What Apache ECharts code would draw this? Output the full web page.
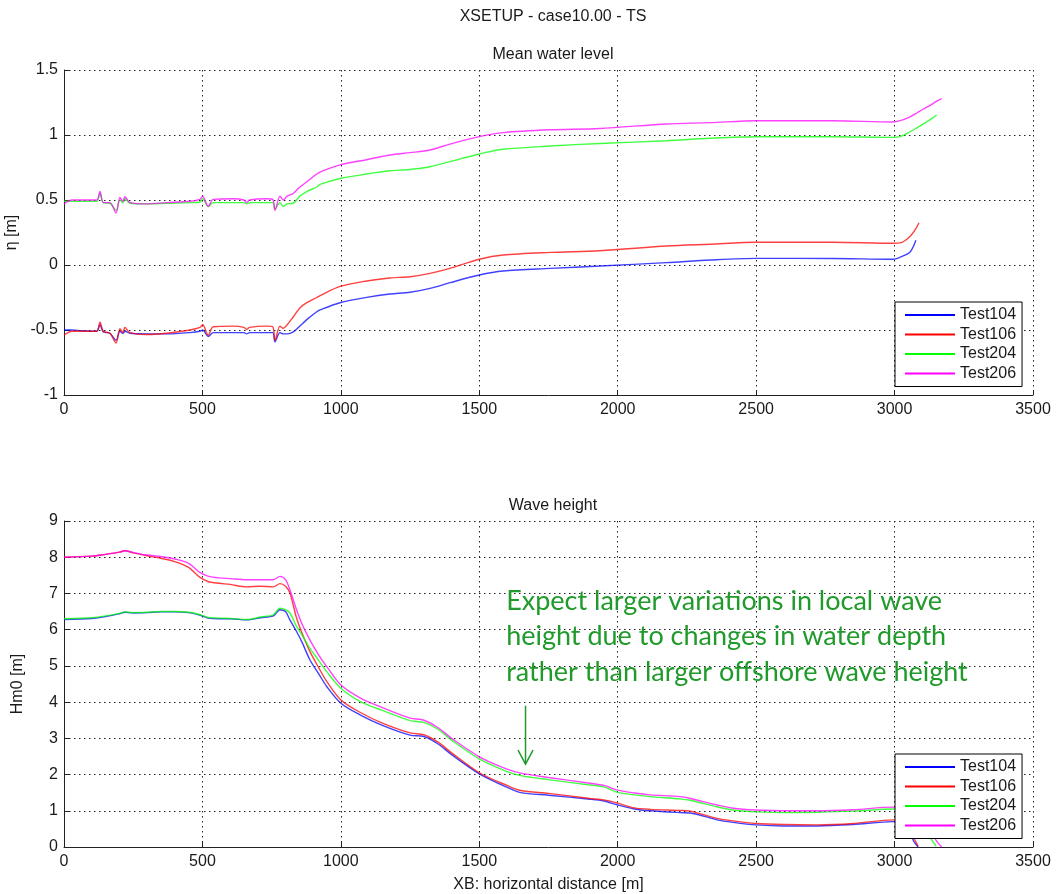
<!DOCTYPE html>
<html>
<head>
<meta charset="utf-8">
<script src="https://cdn.jsdelivr.net/npm/echarts@6/dist/echarts.min.js"></script>
<style>
  html, body { margin: 0; padding: 0; background: #fff; }
  #chart { width: 1056px; height: 894px; }
</style>
</head>
<body>
<div id="chart"></div>
<script>
// ---- series identity ----
const seriesNames  = ['Test104', 'Test106', 'Test204', 'Test206'];
const seriesColors = ['#0000ff', '#ff0000', '#00ff00', '#ff00ff'];

// ---- Mean water level (eta, m) along XB (m) ----
const xLevel = [0, 29, 60, 118, 130, 142, 166, 188, 202, 213, 220, 238, 298, 371, 455, 491, 501, 521, 539, 611,
  650, 660, 670, 732, 754, 762, 780, 792, 806, 828, 852, 877, 913, 925, 997, 1093, 1177, 1250, 1322, 1394,
  1500, 1586, 1756, 1936, 2177, 2333, 2500, 2778, 2995, 3020, 3056, 3077, 3088, 3104, 3130, 3152, 3170];
const level104 = [-0.50, -0.50, -0.505, -0.51, -0.46, -0.515, -0.525, -0.58, -0.51, -0.525, -0.51, -0.525, -0.53, -0.53, -0.52, -0.51, -0.50, -0.55, -0.52, -0.52,
  -0.52, -0.53, -0.52, -0.52, -0.52, -0.59, -0.52, -0.53, -0.53, -0.515, -0.47, -0.42, -0.36, -0.345, -0.29, -0.249, -0.223, -0.21, -0.18, -0.136,
  -0.077, -0.046, -0.026, -0.008, 0.018, 0.038, 0.051, 0.05, 0.044, 0.06, 0.10, 0.19, null, null, null, null, null];
const level106 = [-0.54, -0.51, -0.51, -0.51, -0.44, -0.51, -0.525, -0.60, -0.49, -0.52, -0.48, -0.52, -0.535, -0.525, -0.50, -0.48, -0.46, -0.54, -0.475, -0.47,
  -0.48, -0.495, -0.48, -0.47, -0.475, -0.58, -0.47, -0.487, -0.46, -0.40, -0.33, -0.29, -0.25, -0.235, -0.165, -0.123, -0.10, -0.09, -0.064, -0.026,
  0.044, 0.077, 0.097, 0.11, 0.146, 0.16, 0.175, 0.175, 0.167, 0.17, 0.22, 0.28, 0.325, null, null, null, null];
const level204 = [0.49, 0.49, 0.49, 0.49, 0.55, 0.48, 0.475, 0.42, 0.50, 0.48, 0.51, 0.475, 0.47, 0.475, 0.48, 0.485, 0.51, 0.45, 0.48, 0.48,
  0.48, 0.47, 0.48, 0.48, 0.48, 0.43, 0.48, 0.45, 0.47, 0.475, 0.53, 0.565, 0.60, 0.62, 0.665, 0.70, 0.725, 0.735, 0.756, 0.795,
  0.854, 0.89, 0.915, 0.935, 0.956, 0.975, 0.987, 0.987, 0.982, 0.987, 1.025, 1.05, 1.065, 1.085, 1.12, 1.154, null];
const level206 = [0.47, 0.50, 0.50, 0.50, 0.565, 0.48, 0.48, 0.40, 0.52, 0.49, 0.525, 0.48, 0.47, 0.48, 0.49, 0.505, 0.53, 0.45, 0.505, 0.51,
  0.50, 0.48, 0.50, 0.51, 0.505, 0.42, 0.53, 0.50, 0.53, 0.55, 0.60, 0.64, 0.70, 0.715, 0.77, 0.81, 0.846, 0.864, 0.885, 0.93,
  0.987, 1.018, 1.04, 1.05, 1.085, 1.095, 1.11, 1.11, 1.10, 1.11, 1.14, 1.165, 1.18, 1.20, 1.23, 1.26, 1.28];

// ---- Wave height (Hm0, m) along XB (m) ----
const xWave = [0, 100, 150, 200, 220, 250, 300, 350, 400, 450, 490, 520, 560, 600, 660, 710, 756, 780, 800, 816,
  840, 860, 888, 920, 949, 1000, 1069, 1150, 1250, 1300, 1350, 1400, 1500, 1600, 1650, 1750, 1900, 1950, 2000, 2060,
  2117, 2225, 2262, 2359, 2417, 2500, 2600, 2720, 2850, 2995, 3030, 3055, 3070, 3085, 3100, 3130, 3150, 3170];
const wave104 = [6.28, 6.31, 6.36, 6.44, 6.48, 6.46, 6.47, 6.49, 6.49, 6.47, 6.40, 6.32, 6.30, 6.30, 6.27, 6.33, 6.38, 6.55, 6.50, 6.27,
  5.95, 5.65, 5.17, 4.78, 4.43, 3.97, 3.65, 3.36, 3.09, 3.05, 2.85, 2.55, 2.02, 1.65, 1.50, 1.43, 1.32, 1.27, 1.16, 1.05,
  1.00, 0.95, 0.94, 0.75, 0.68, 0.61, 0.58, 0.58, 0.62, 0.70, 0.66, 0.40, 0.15, 0.0, null, null, null, null];
const wave106 = [8.00, 8.03, 8.08, 8.14, 8.18, 8.12, 8.04, 7.97, 7.88, 7.72, 7.45, 7.33, 7.28, 7.25, 7.18, 7.20, 7.18, 7.27, 7.20, 7.01,
  6.32, 5.90, 5.40, 4.95, 4.57, 4.06, 3.72, 3.42, 3.15, 3.10, 2.90, 2.60, 2.05, 1.70, 1.56, 1.48, 1.34, 1.30, 1.21, 1.08,
  1.04, 1.01, 0.99, 0.79, 0.72, 0.65, 0.62, 0.61, 0.65, 0.75, 0.71, 0.50, 0.25, 0.02, null, null, null, null];
const wave204 = [6.30, 6.33, 6.38, 6.45, 6.49, 6.47, 6.48, 6.50, 6.50, 6.48, 6.42, 6.34, 6.32, 6.31, 6.28, 6.35, 6.41, 6.59, 6.55, 6.46,
  6.09, 5.85, 5.49, 5.15, 4.84, 4.38, 4.02, 3.77, 3.49, 3.44, 3.25, 2.95, 2.43, 2.08, 1.97, 1.86, 1.71, 1.66, 1.51, 1.44,
  1.39, 1.33, 1.29, 1.11, 1.02, 0.97, 0.95, 0.96, 0.99, 1.05, 1.04, 1.00, 0.95, 0.85, 0.70, 0.25, 0.02, null];
const wave206 = [8.00, 8.03, 8.08, 8.14, 8.18, 8.13, 8.06, 8.02, 7.95, 7.83, 7.58, 7.48, 7.43, 7.41, 7.38, 7.38, 7.38, 7.47, 7.38, 7.10,
  6.55, 6.15, 5.72, 5.30, 4.98, 4.47, 4.12, 3.85, 3.56, 3.50, 3.30, 3.00, 2.49, 2.15, 2.04, 1.92, 1.76, 1.70, 1.57, 1.49,
  1.44, 1.39, 1.34, 1.16, 1.07, 1.02, 1.00, 1.00, 1.03, 1.10, 1.09, 1.06, 1.02, 0.95, 0.82, 0.48, 0.18, 0.0];

// ---- axis ranges and ticks ----
const xRange = [0, 3500], xStep = 500;
const levelRange = [-1, 1.5], levelStep = 0.5;
const waveRange = [0, 9], waveStep = 1;

// ---- annotation (in XB / Hm0 units) ----
const noteLines = [
  'Expect larger variations in local wave',
  'height due to changes in water depth',
  'rather than larger offshore wave height'
];
const noteAnchor = [1597, 6.79];     // left end of the first text line
const arrowFrom = [1667, 3.90];
const arrowTo   = [1667, 2.29];

function pairs(xs, ys) {
  const out = [];
  for (let i = 0; i < xs.length; i++) if (ys[i] !== null) out.push([xs[i], ys[i]]);
  return out;
}

const FONT = '"Liberation Sans", Arial, sans-serif';
const INK = '#1a1a1a';
const gridLine = { show: true, lineStyle: { color: '#222', width: 1, type: [1.5, 3.5] } };
const plainNumber = v => String(v);

function xAxisFor(gi, withName) {
  return {
    type: 'value', gridIndex: gi, min: xRange[0], max: xRange[1], interval: xStep,
    axisLine: { show: true, onZero: false, lineStyle: { color: '#222', width: 1 } },
    axisTick: { show: true, inside: true, length: 5, lineStyle: { color: '#222' } },
    axisLabel: { color: INK, fontFamily: FONT, fontSize: 16, margin: 7, formatter: plainNumber },
    splitLine: gridLine,
    name: withName ? 'XB: horizontal distance [m]' : '',
    nameLocation: 'middle', nameGap: 30,
    nameTextStyle: { color: INK, fontFamily: FONT, fontSize: 16 }
  };
}
function yAxisFor(gi, range, step, name) {
  return {
    type: 'value', gridIndex: gi, min: range[0], max: range[1], interval: step,
    axisLine: { show: true, onZero: false, lineStyle: { color: '#222', width: 1 } },
    axisTick: { show: true, inside: true, length: 5, lineStyle: { color: '#222' } },
    axisLabel: { color: INK, fontFamily: FONT, fontSize: 16, margin: 6, formatter: plainNumber },
    splitLine: gridLine,
    name: name, nameLocation: 'middle', nameGap: 38, nameRotate: 90,
    nameTextStyle: { color: INK, fontFamily: FONT, fontSize: 16 }
  };
}
function legendAt(left, top) {
  return {
    data: seriesNames, orient: 'vertical', left: left, top: top,
    icon: 'rect', itemWidth: 50, itemHeight: 2, itemGap: 1.5,
    padding: [4, 6, 4, 10],
    backgroundColor: '#fff', borderColor: '#000', borderWidth: 1, borderRadius: 0,
    selectedMode: false,
    textStyle: { color: INK, fontFamily: FONT, fontSize: 16, lineHeight: 18 }
  };
}

const levelData = [level104, level106, level204, level206];
const waveData  = [wave104, wave106, wave204, wave206];
const series = [];
seriesNames.forEach((name, i) => {
  series.push({
    name, type: 'line', xAxisIndex: 0, yAxisIndex: 0, data: pairs(xLevel, levelData[i]),
    showSymbol: false, smooth: 0.3, color: seriesColors[i],
    lineStyle: { width: 1.4, opacity: 0.75 }, animation: false
  });
});
seriesNames.forEach((name, i) => {
  series.push({
    name, type: 'line', xAxisIndex: 1, yAxisIndex: 1, data: pairs(xWave, waveData[i]),
    showSymbol: false, smooth: 0.3, color: seriesColors[i],
    lineStyle: { width: 1.4, opacity: 0.75 }, animation: false
  });
});

const chart = echarts.init(document.getElementById('chart'), null, { renderer: 'canvas' });
chart.setOption({
  backgroundColor: '#fff',
  animation: false,
  textStyle: { fontFamily: FONT },
  title: [
    { text: 'XSETUP - case10.00 - TS', left: 548, top: 4, textAlign: 'center',
      textStyle: { color: INK, fontFamily: FONT, fontSize: 16, fontWeight: 'normal' } },
    { text: 'Mean water level', left: 548, top: 42, textAlign: 'center',
      textStyle: { color: INK, fontFamily: FONT, fontSize: 16, fontWeight: 'normal' } },
    { text: 'Wave height', left: 548, top: 493, textAlign: 'center',
      textStyle: { color: INK, fontFamily: FONT, fontSize: 16, fontWeight: 'normal' } }
  ],
  grid: [
    { left: 64, right: 23, top: 70, height: 325, containLabel: false, outerBoundsMode: 'none' },
    { left: 64, right: 23, top: 521, height: 326, containLabel: false, outerBoundsMode: 'none' }
  ],
  xAxis: [xAxisFor(0, false), xAxisFor(1, true)],
  yAxis: [yAxisFor(0, levelRange, levelStep, 'η [m]'), yAxisFor(1, waveRange, waveStep, 'Hm0 [m]')],
  legend: [legendAt(895, 302), legendAt(895, 754)],
  series
});

// annotation text and arrow, placed through the lower plot's scales
const NOTE_GREEN = '#1f9a2b';
const p0 = chart.convertToPixel({ gridIndex: 1 }, noteAnchor);
const a0 = chart.convertToPixel({ gridIndex: 1 }, arrowFrom);
const a1 = chart.convertToPixel({ gridIndex: 1 }, arrowTo);
const graphics = noteLines.map((t, k) => ({
  type: 'text', z: 50,
  style: { text: t, x: p0[0], y: p0[1] + k * 35.5, fill: NOTE_GREEN,
           font: '27px Lato, "Open Sans", sans-serif', verticalAlign: 'middle' }
}));
graphics.push({
  type: 'line', z: 50,
  shape: { x1: a0[0], y1: a0[1], x2: a1[0], y2: a1[1] },
  style: { stroke: NOTE_GREEN, lineWidth: 1.5 }
});
graphics.push({
  type: 'polyline', z: 50,
  shape: { points: [[a1[0] - 7.5, a1[1] - 14], [a1[0], a1[1]], [a1[0] + 7.5, a1[1] - 14]] },
  style: { stroke: NOTE_GREEN, lineWidth: 1.5, fill: null }
});
chart.setOption({ graphic: graphics });
</script>
</body>
</html>
